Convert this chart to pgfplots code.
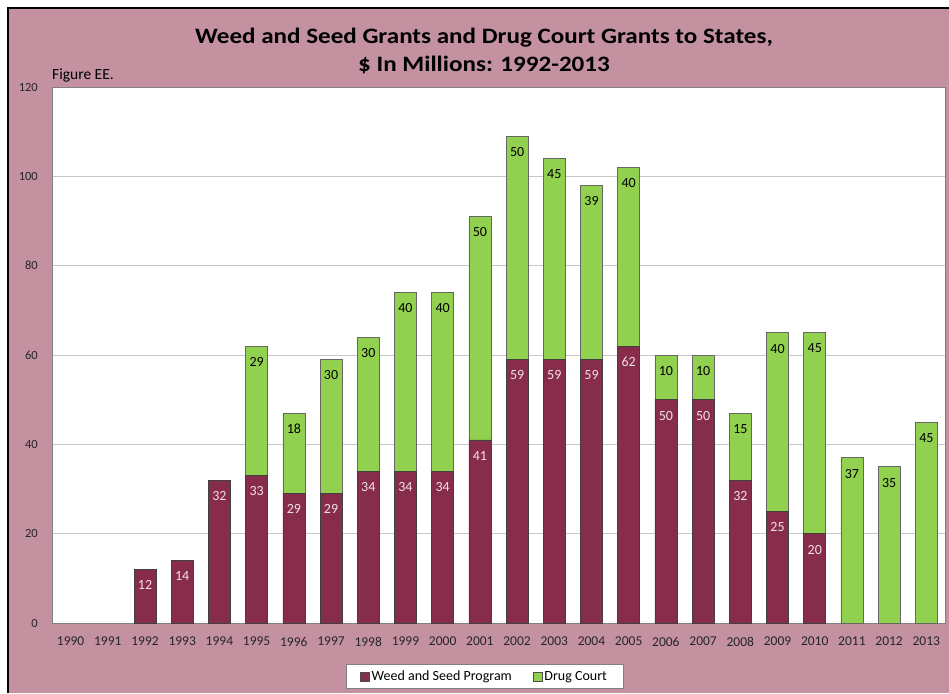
\documentclass[border=0pt]{standalone}
\usepackage{pgfplots}
\pgfplotsset{compat=1.18}
\usepackage{fontspec}
\setmainfont{Carlito}
\newfontfamily\titlefont{Carlito}[FakeStretch=1.14]
\definecolor{pinkbg}{RGB}{196,145,160}
\definecolor{maroon}{RGB}{136,44,76}
\definecolor{lgreen}{RGB}{146,208,80}
\definecolor{wlab}{RGB}{242,225,232}
\begin{document}
\begin{tikzpicture}
\path[use as bounding box] (0,0) rectangle (949pt,-693pt);
\fill[white] (0,0) rectangle (949pt,-693pt);
\fill[pinkbg] (8pt,-8pt) rectangle (949pt,-693pt);
\draw[black,line width=1.2pt] (8pt,-693pt) -- (8pt,-8pt) -- (949pt,-8pt);
\node[anchor=base,inner sep=0pt,font=\titlefont\fontsize{22}{26}\selectfont\bfseries] at (484pt,-43.5pt) {Weed and Seed Grants and Drug Court Grants to States,};
\node[anchor=base,inner sep=0pt,font=\titlefont\fontsize{22}{26}\selectfont\bfseries] at (484pt,-71pt) {\$ In Millions: 1992-2013};
\node[anchor=base west,font=\fontsize{15.5}{18}\selectfont,inner sep=0pt] at (52pt,-79pt) {Figure EE.};
\begin{axis}[
  at={(52pt,-623pt)}, anchor=south west,
  scale only axis, width=893pt, height=536pt,
  ybar stacked, bar width=22pt,
  xmin=1989.5, xmax=2013.5, ymin=0, ymax=120,
  xtick={1990,...,2013}, ytick={0,20,...,120},
  major tick length=0pt,
  axis background/.style={fill=white},
  axis line style={draw=black!50},
  ymajorgrids, grid style={draw=black!22, line width=0.8pt},
  /pgf/number format/assume math mode=true,
  /pgf/number format/1000 sep={},
  xticklabel style={font=\fontsize{13.5}{16}\selectfont, text=black!85, anchor=north, inner sep=0pt, yshift=-14pt},
  yticklabel style={font=\fontsize{12.5}{15}\selectfont, text=black!85, anchor=east, inner sep=0pt, xshift=-14pt},
  point meta=rawy,
  visualization depends on={rawy \as \rawyv},
  nodes near coords={\pgfmathfloatifflags{\pgfplotspointmeta}{0}{}{\pgfmathprintnumber{\pgfplotspointmeta}}},
  every node near coord/.append style={anchor=north, inner sep=0pt, yshift={\rawyv*2.23333pt-11pt}, font=\fontsize{14}{16}\selectfont},
  legend style={at={(0.4843,-0.0765)}, anchor=north, legend columns=2, draw=black!50, fill=white,
    font=\fontsize{14}{16}\selectfont, inner xsep=14pt, inner ysep=4.5pt,
    /tikz/every even column/.append style={column sep=19pt}},
  legend image code/.code={\draw[#1, draw=black!70, line width=0.6pt] (0pt,-4.5pt) rectangle (9pt,4.5pt);},
]
\addplot[fill=maroon, draw=black!75, line width=0.6pt, every node near coord/.append style={text=wlab}] coordinates {
(1990,0) (1991,0) (1992,12) (1993,14) (1994,32) (1995,33) (1996,29) (1997,29) (1998,34) (1999,34)
(2000,34) (2001,41) (2002,59) (2003,59) (2004,59) (2005,62) (2006,50) (2007,50) (2008,32) (2009,25)
(2010,20) (2011,0) (2012,0) (2013,0)};
\addplot[fill=lgreen, draw=black!60, line width=0.6pt, every node near coord/.append style={text=black}] coordinates {
(1990,0) (1991,0) (1992,0) (1993,0) (1994,0) (1995,29) (1996,18) (1997,30) (1998,30) (1999,40)
(2000,40) (2001,50) (2002,50) (2003,45) (2004,39) (2005,40) (2006,10) (2007,10) (2008,15) (2009,40)
(2010,45) (2011,37) (2012,35) (2013,45)};
\legend{Weed and Seed Program, Drug Court}
\end{axis}
\end{tikzpicture}
\end{document}
